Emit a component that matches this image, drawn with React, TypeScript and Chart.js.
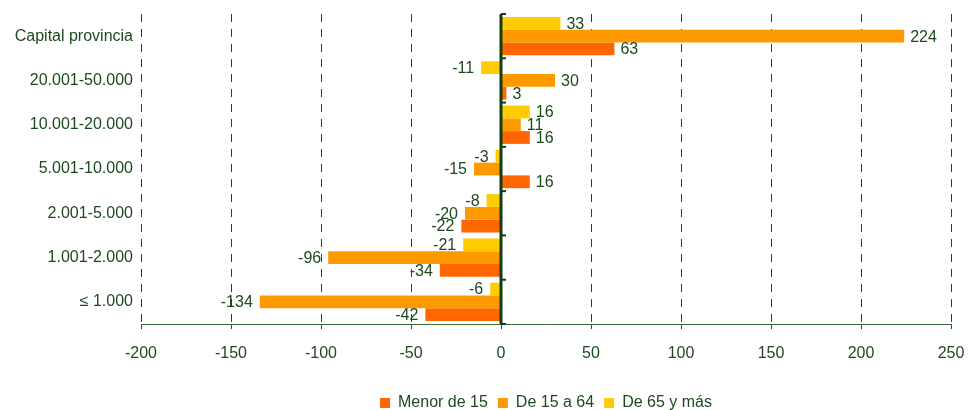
import React, { useEffect, useRef } from "react";
import { Chart, registerables } from "chart.js";

Chart.register(...registerables);

const categories = [
  "Capital provincia",
  "20.001-50.000",
  "10.001-20.000",
  "5.001-10.000",
  "2.001-5.000",
  "1.001-2.000",
  "≤ 1.000",
];
const over65 = [33, -11, 16, -3, -8, -21, -6];
const age15to64 = [224, 30, 11, -15, -20, -96, -134];
const under15 = [63, 3, 16, 16, -22, -34, -42];
const xTicks = [-200, -150, -100, -50, 0, 50, 100, 150, 200, 250];

const TEXT = "#1c4a1c";
const FONT = "Arial, 'Liberation Sans', sans-serif";

const labelPlugin = {
  id: "valueLabels",
  afterLayout(chart: any) {
    const lg = chart.legend;
    if (lg) {
      lg.top += 11;
      lg.bottom += 11;
    }
  },
  afterDatasetsDraw(chart: any) {
    const ctx = chart.ctx;
    ctx.save();
    ctx.font = `16px ${FONT}`;
    ctx.fillStyle = TEXT;
    ctx.textBaseline = "middle";
    chart.data.datasets.forEach((ds: any, di: number) => {
      const meta = chart.getDatasetMeta(di);
      meta.data.forEach((el: any, i: number) => {
        const v = ds.data[i];
        if (v >= 0) {
          ctx.textAlign = "left";
          ctx.fillText(String(v), el.x + 6, el.y + 1);
        } else {
          ctx.textAlign = "right";
          ctx.fillText(String(v), el.x - 7, el.y + 1);
        }
      });
    });
    // zero axis with category tick marks
    const xs = chart.scales.x;
    const ys = chart.scales.y;
    const x0 = xs.getPixelForValue(0);
    ctx.strokeStyle = "#123d12";
    ctx.lineWidth = 3;
    ctx.beginPath();
    ctx.moveTo(x0, chart.chartArea.top);
    ctx.lineTo(x0, chart.chartArea.bottom);
    ctx.stroke();
    ctx.lineWidth = 2;
    for (let i = 0; i <= categories.length; i++) {
      const yy = ys.getPixelForValue(i - 0.5);
      ctx.beginPath();
      ctx.moveTo(x0, yy);
      ctx.lineTo(x0 + 5, yy);
      ctx.stroke();
    }
    ctx.restore();
  },
};

export default function App() {
  const ref = useRef<HTMLCanvasElement | null>(null);
  useEffect(() => {
    const chart = new Chart(ref.current as HTMLCanvasElement, {
      type: "bar",
      data: {
        labels: categories,
        datasets: [
          { label: "De 65 y más", data: over65, backgroundColor: "#FFCC00" },
          { label: "De 15 a 64", data: age15to64, backgroundColor: "#FF9900" },
          { label: "Menor de 15", data: under15, backgroundColor: "#FF6600" },
        ],
      },
      options: {
        indexAxis: "y",
        animation: false,
        responsive: false,
        maintainAspectRatio: false,
        layout: { padding: { top: 14, right: 17, left: 0, bottom: 0 } },
        datasets: { bar: { categoryPercentage: 0.865, barPercentage: 1 } },
        scales: {
          x: {
            min: -200,
            max: 250,
            afterBuildTicks: (s: any) => {
              s.ticks = xTicks.map((v) => ({ value: v }));
            },
            afterFit: (s: any) => {
              s.height = 50;
              s.paddingRight = 0;
              s.paddingLeft = 0;
            },
            grid: {
              color: "#1f4a1f",
              lineWidth: 1,
              tickLength: 5,
              tickColor: "#2b522b",
              tickBorderDash: [],
            },
            border: { display: true, color: "#3d6b3d", width: 1, dash: [8, 7] },
            ticks: {
              font: { size: 16, family: FONT },
              color: TEXT,
              padding: 15,
            },
          },
          y: {
            afterFit: (s: any) => {
              s.width = 141;
              s.paddingTop = 0;
              s.paddingBottom = 0;
            },
            grid: { display: false, drawTicks: false },
            border: { display: false },
            ticks: {
              font: { size: 16, family: FONT },
              color: TEXT,
              padding: 8,
            },
          },
        },
        plugins: {
          legend: {
            position: "bottom",
            fullSize: false,
            reverse: true,
            labels: {
              boxWidth: 10,
              boxHeight: 10,
              padding: 10,
              color: TEXT,
              font: { size: 16, family: FONT },
            },
          },
          tooltip: { enabled: false },
        },
      },
      plugins: [labelPlugin],
    } as any);
    return () => chart.destroy();
  }, []);
  return (
    <div style={{ position: "absolute", left: 0, top: 0, width: 968, height: 410 }}>
      <canvas ref={ref} width={968} height={410} />
    </div>
  );
}
